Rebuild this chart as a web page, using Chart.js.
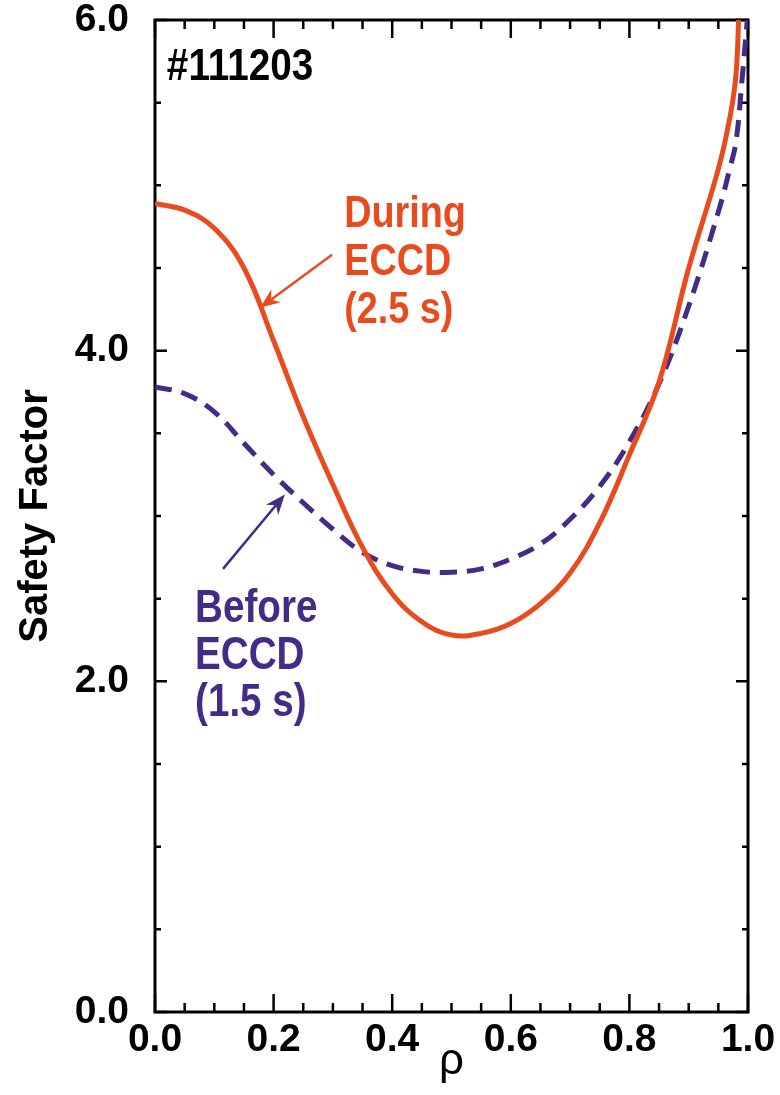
<!DOCTYPE html>
<html>
<head>
<meta charset="utf-8">
<script src="https://cdn.jsdelivr.net/npm/chart.js@4.4.1/dist/chart.umd.min.js"></script>
<style>
  html, body { margin: 0; padding: 0; background: #fff; }
</style>
</head>
<body>
<canvas id="myChart" width="780" height="1095"></canvas>
<script>
// q profiles (shot #111203)
const rhoDuring = [0, 0.05, 0.1, 0.15, 0.2, 0.25, 0.3, 0.35, 0.4, 0.45, 0.5, 0.55, 0.6, 0.65, 0.7, 0.75, 0.8, 0.85, 0.9, 0.95, 0.97, 0.98, 0.985];
const qDuring = [4.89, 4.85, 4.74, 4.50, 4.06, 3.60, 3.19, 2.81, 2.53, 2.36, 2.28, 2.29, 2.35, 2.47, 2.655, 2.96, 3.37, 3.81, 4.50, 5.10, 5.42, 5.68, 6.10];

const rhoBefore = [0, 0.05, 0.1, 0.15, 0.2, 0.25, 0.3, 0.35, 0.4, 0.45, 0.5, 0.55, 0.6, 0.65, 0.7, 0.75, 0.8, 0.85, 0.9, 0.95, 0.97, 0.98, 0.99, 1.0];
const qBefore = [3.78, 3.74, 3.63, 3.44, 3.25, 3.08, 2.92, 2.78, 2.70, 2.665, 2.66, 2.68, 2.74, 2.83, 2.98, 3.18, 3.45, 3.80, 4.27, 4.84, 5.11, 5.27, 5.64, 6.05];

const xTicks = [0, 0.2, 0.4, 0.6, 0.8, 1.0];
const yTicks = [0, 2, 4, 6];

const shotLabel = '#111203';
const duringLabel = ['During', 'ECCD', '(2.5 s)'];
const beforeLabel = ['Before', 'ECCD', '(1.5 s)'];

const ORANGE = '#e84c1e';
const PURPLE = '#452b88';
const SANS = '"Liberation Sans", Arial, Helvetica, sans-serif';

function toPoints(xs, ys) {
    return xs.map((v, i) => ({x: v, y: ys[i]}));
}

// condensed-looking bold text: squeeze Liberation Sans horizontally
function narrowLines(ctx, lines, x, y, step, size, squeeze) {
    ctx.save();
    ctx.translate(x, y);
    ctx.scale(squeeze, 1);
    ctx.font = 'bold ' + size + 'px ' + SANS;
    lines.forEach((t, i) => ctx.fillText(t, 0, i * step));
    ctx.restore();
}

function drawArrow(ctx, x0, y0, x1, y1, color) {
    const ang = Math.atan2(y1 - y0, x1 - x0);
    const len = 20, half = 8;
    ctx.save();
    ctx.strokeStyle = color;
    ctx.fillStyle = color;
    ctx.lineWidth = 2.5;
    ctx.beginPath();
    ctx.moveTo(x0, y0);
    ctx.lineTo(x1 - Math.cos(ang) * len * 0.7, y1 - Math.sin(ang) * len * 0.7);
    ctx.stroke();
    ctx.translate(x1, y1);
    ctx.rotate(ang);
    ctx.beginPath();
    ctx.moveTo(0, 0);
    ctx.lineTo(-len, -half);
    ctx.lineTo(-len * 0.7, 0);
    ctx.lineTo(-len, half);
    ctx.closePath();
    ctx.fill();
    ctx.restore();
}

// box + inward ticks on all four sides, then the annotations
const framePlugin = {
    id: 'frame',
    beforeDatasetsDraw(chart) {
        const {ctx, chartArea: a, scales: {x, y}} = chart;
        ctx.save();
        ctx.strokeStyle = '#000';
        ctx.lineWidth = 3;
        ctx.strokeRect(a.left, a.top, a.right - a.left, a.bottom - a.top);
        ctx.lineWidth = 2.5;
        ctx.beginPath();
        for (let i = 0; i <= 12; i++) {
            const py = y.getPixelForValue(i * 0.5);
            const l = i % 4 === 0 ? 12 : 6;
            ctx.moveTo(a.left, py); ctx.lineTo(a.left + l, py);
            ctx.moveTo(a.right, py); ctx.lineTo(a.right - l, py);
        }
        for (let i = 0; i <= 20; i++) {
            const px = x.getPixelForValue(i * 0.05);
            const l = i % 4 === 0 ? 18 : 9;
            ctx.moveTo(px, a.bottom); ctx.lineTo(px, a.bottom - l);
            ctx.moveTo(px, a.top); ctx.lineTo(px, a.top + l);
        }
        ctx.stroke();
        ctx.restore();
    },
    afterDatasetsDraw(chart) {
        const {ctx, scales: {x, y}} = chart;
        ctx.save();
        ctx.textAlign = 'left';
        ctx.textBaseline = 'alphabetic';

        ctx.fillStyle = '#000';
        narrowLines(ctx, [shotLabel], x.getPixelForValue(0.02), y.getPixelForValue(5.637), 0, 45, 0.86);

        ctx.fillStyle = ORANGE;
        narrowLines(ctx, duringLabel, x.getPixelForValue(0.319), y.getPixelForValue(4.748), 48, 45, 0.84);

        ctx.fillStyle = PURPLE;
        narrowLines(ctx, beforeLabel, x.getPixelForValue(0.0675), y.getPixelForValue(2.359), 47, 46, 0.84);
        ctx.restore();

        drawArrow(ctx, x.getPixelForValue(0.2985), y.getPixelForValue(4.58),
                  x.getPixelForValue(0.177), y.getPixelForValue(4.26), ORANGE);
        drawArrow(ctx, x.getPixelForValue(0.1147), y.getPixelForValue(2.68),
                  x.getPixelForValue(0.219), y.getPixelForValue(3.13), PURPLE);
    }
};

function noPad(s) {
    s.paddingTop = 0; s.paddingBottom = 0; s.paddingLeft = 0; s.paddingRight = 0;
}

const data = {
    datasets: [{
        label: 'During ECCD (2.5 s)',
        data: toPoints(rhoDuring, qDuring),
        borderColor: ORANGE,
        borderWidth: 5,
        pointRadius: 0,
        tension: 0.4
    }, {
        label: 'Before ECCD (1.5 s)',
        data: toPoints(rhoBefore, qBefore),
        borderColor: PURPLE,
        borderWidth: 5,
        borderDash: [17, 10],
        pointRadius: 0,
        tension: 0.4
    }]
};

const config = {
    type: 'line',
    data: data,
    options: {
        responsive: false,
        animation: false,
        layout: {padding: {left: 0, top: 20, right: 32, bottom: 0}},
        plugins: {legend: {display: false}, tooltip: {enabled: false}},
        scales: {
            x: {
                type: 'linear',
                min: 0, max: 1,
                afterBuildTicks: (s) => { s.ticks = xTicks.map(v => ({value: v})); },
                afterFit: (s) => { s.height = 83; noPad(s); },
                grid: {display: false, drawTicks: false},
                border: {display: false},
                ticks: {
                    padding: 9,
                    color: '#000',
                    font: {family: SANS, size: 39, weight: 'bold', lineHeight: 1},
                    callback: (v) => v.toFixed(1),
                    maxRotation: 0, autoSkip: false
                },
                title: {
                    display: true, text: 'ρ', color: '#000',
                    font: {family: SANS, size: 44, lineHeight: 1},
                    padding: {top: 0, bottom: 11}
                }
            },
            y: {
                min: 0, max: 6,
                afterBuildTicks: (s) => { s.ticks = yTicks.map(v => ({value: v})); },
                afterFit: (s) => { s.width = 155; noPad(s); },
                grid: {display: false, drawTicks: false},
                border: {display: false},
                ticks: {
                    padding: 26,
                    color: '#000',
                    font: {family: SANS, size: 39, weight: 'bold', lineHeight: 0.9},
                    callback: (v) => v.toFixed(1)
                },
                title: {
                    display: true, text: 'Safety Factor', color: '#000',
                    font: {family: SANS, size: 40, weight: 'bold', lineHeight: 1},
                    padding: {top: 16, bottom: 0}
                }
            }
        }
    },
    plugins: [framePlugin]
};

const myChart = new Chart(document.getElementById('myChart'), config);
</script>
</body>
</html>
